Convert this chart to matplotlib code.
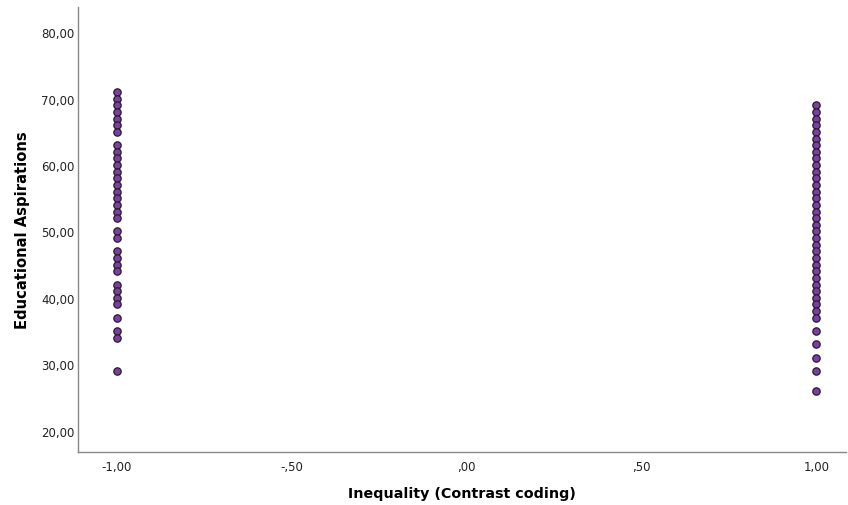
import numpy as np
import matplotlib.pyplot as plt

# Contrast coded groups (-1 / 1) and educational aspiration scores
low_scores = [71, 70, 69, 68, 67, 66, 65, 63, 62, 61, 60, 59, 58, 57, 56, 55,
              54, 53, 52, 50, 49, 47, 46, 45, 44, 42, 41, 40, 39, 37, 35, 34, 29]
high_scores = list(range(69, 36, -1)) + [35, 33, 31, 29, 26]

x_vals = [-1.0] * len(low_scores) + [1.0] * len(high_scores)
y_vals = low_scores + high_scores

x_ticks = [-1.0, -0.5, 0.0, 0.5, 1.0]
x_labels = ['-1,00', '-,50', ',00', ',50', '1,00']
y_ticks = [20, 30, 40, 50, 60, 70, 80]
y_labels = ['20,00', '30,00', '40,00', '50,00', '60,00', '70,00', '80,00']

fig = plt.figure(figsize=(8.48, 5.06), dpi=100)
ax = fig.add_axes([0.092, 0.105, 0.906, 0.879])

ax.scatter(x_vals, y_vals, s=28, color='#7b3f9e', edgecolor='#2a1a33',
           linewidth=0.9, zorder=3)

ax.set_xlim(-1.11, 1.086)
ax.set_ylim(16.8, 83.8)
ax.set_xticks(x_ticks)
ax.set_xticklabels(x_labels)
ax.set_yticks(y_ticks)
ax.set_yticklabels(y_labels)
ax.tick_params(length=0, labelsize=8.5, colors='#222222')
ax.tick_params(axis='x', pad=6)
ax.tick_params(axis='y', pad=2.5)

for side in ['top', 'right']:
    ax.spines[side].set_visible(False)
for side in ['left', 'bottom']:
    ax.spines[side].set_color('#888888')
    ax.spines[side].set_linewidth(1.0)

ax.set_xlabel('Inequality (Contrast coding)', fontsize=10.3, fontweight='bold',
              labelpad=9)
ax.set_ylabel('Educational Aspirations', fontsize=10.6, fontweight='bold',
              labelpad=8)

fig.savefig('out.png', dpi=100)
